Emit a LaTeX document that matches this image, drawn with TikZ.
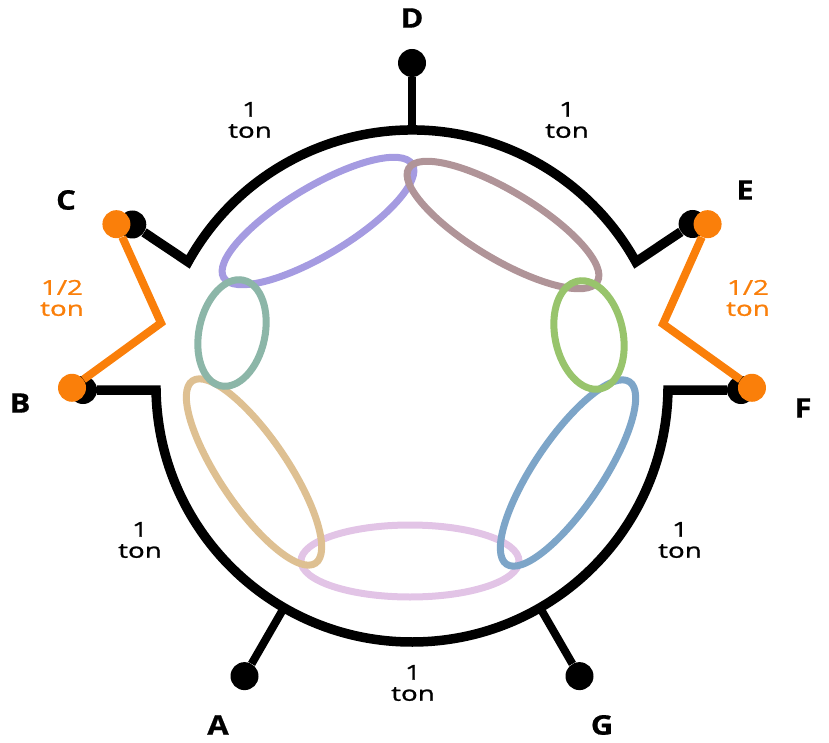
\documentclass[tikz,border=0pt]{standalone}
\usepackage{fontspec}
\setmainfont{Open Sans}
\newfontfamily\tonfont[FakeStretch=1.35,FakeBold=1.2]{Open Sans}
\newfontfamily\notefont[FakeStretch=1.15,FakeBold=0.6]{Open Sans}
\definecolor{halftone}{HTML}{FA7F0A}
\definecolor{lavender}{HTML}{A59BE1}
\definecolor{mauve}{HTML}{B09498}
\definecolor{sage}{HTML}{8CB6A8}
\definecolor{leaf}{HTML}{98C46C}
\definecolor{sand}{HTML}{DEC092}
\definecolor{steel}{HTML}{7DA5C8}
\definecolor{lilac}{HTML}{E2C4E6}
\tikzset{
  dot/.style={circle, fill=black, minimum size=28pt},
  halfdot/.style={circle, fill=halftone, minimum size=28pt},
  stem/.style={black, line width=8pt},
  halfline/.style={halftone, line width=8pt},
  ring/.style={line width=7pt},
  notename/.style={font=\notefont\bfseries\fontsize{27}{27}\selectfont},
  interval/.style={align=center, font=\tonfont\fontsize{20.5}{21}\selectfont}
}
\begin{document}
\begin{tikzpicture}[x=10pt,y=10pt]
	\tikzstyle{every node}+=[inner sep=0pt]
	\useasboundingbox (0,0) rectangle (82.9,-74.3);
	% rings
	\draw [ring, lilac, shift={(41.0,-56.1)}] (0,0) ellipse (10.9 and 3.6);
	\draw [ring, sand, shift={(25.4,-47.2)}, rotate=-56] (0,0) ellipse (11 and 3.4);
	\draw [ring, steel, shift={(56.8,-47.3)}, rotate=56] (0,0) ellipse (11 and 3.4);
	\draw [ring, lavender, shift={(31.8,-22.1)}, rotate=31] (0,0) ellipse (11 and 3.4);
	\draw [ring, mauve, shift={(50.3,-22.5)}, rotate=-31] (0,0) ellipse (11 and 3.4);
	\draw [ring, sage, shift={(23.2,-33.3)}, rotate=78] (0,0) ellipse (5.4 and 3.3);
	\draw [ring, leaf, shift={(58.9,-33.5)}, rotate=102] (0,0) ellipse (5.5 and 3.4);
	\begin{scope}[shift={(41.2,-38.6)}]
		\node [dot] (A) at (240:33.5) {};
		\node [dot] (B) at (180.7:32.9) {};
		\node [dot] (C) at (150:32.3) {};
		\node [dot] (D) at (90:32.3) {};
		\node [dot] (E) at (30:32.4) {};
		\node [dot] (F) at (-0.7:32.9) {};
		\node [dot] (G) at (300:33.5) {};
		\coordinate (a1) at (240:25.6);
		\coordinate (d1) at (90:25.6);
		\coordinate (g1) at (300:25.6);
		% circle, broken at the half tones
		\draw [black, line width=9.5pt] (C) -- (151:25.6) arc (151:29:25.6) -- (E);
		\draw [black, line width=9.5pt] (B) -- (180.9:25.6) arc (180.9:359.1:25.6) -- (F);
		\draw [stem] (a1) -- (A);
		\draw [stem] (d1) -- (D);
		\draw [stem] (g1) -- (G);
		% half tones
		\coordinate (kl) at (-25.1,6.3);
		\coordinate (kr) at (25.1,6.2);
		\node [halfdot] (Bh) at (180.3:34.0) {};
		\node [halfdot] (Ch) at (151.3:33.7) {};
		\node [halfdot] (Eh) at (28.7:33.7) {};
		\node [halfdot] (Fh) at (-0.3:34.0) {};
		\draw [halfline] (Ch) -- (kl) -- (Bh);
		\draw [halfline] (Eh) -- (kr) -- (Fh);
	\end{scope}
	% names
	\node [notename] (nA) at (21.8,-72.5) {A};
	\node [notename] (nB) at (2.0,-40.3) {B};
	\node [notename] (nC) at (6.6,-20.0) {C};
	\node [notename] (nD) at (41.2,-1.8) {D};
	\node [notename] (nE) at (74.5,-19.0) {E};
	\node [notename] (nF) at (80.3,-40.8) {F};
	\node [notename] (nG) at (60.2,-72.5) {G};
	% steps
	\node [interval] (tCD) at (25.0,-12.0) {1\\ton};
	\node [interval] (tDE) at (56.7,-12.0) {1\\ton};
	\node [interval] (tAB) at (14.0,-54.0) {1\\ton};
	\node [interval] (tFG) at (68.0,-54.0) {1\\ton};
	\node [interval] (tGA) at (41.3,-68.3) {1\\ton};
	\node [interval, halftone] (tBC) at (6.2,-29.8) {1/2\\ton};
	\node [interval, halftone] (tEF) at (74.8,-29.8) {1/2\\ton};
\end{tikzpicture}
\end{document}
